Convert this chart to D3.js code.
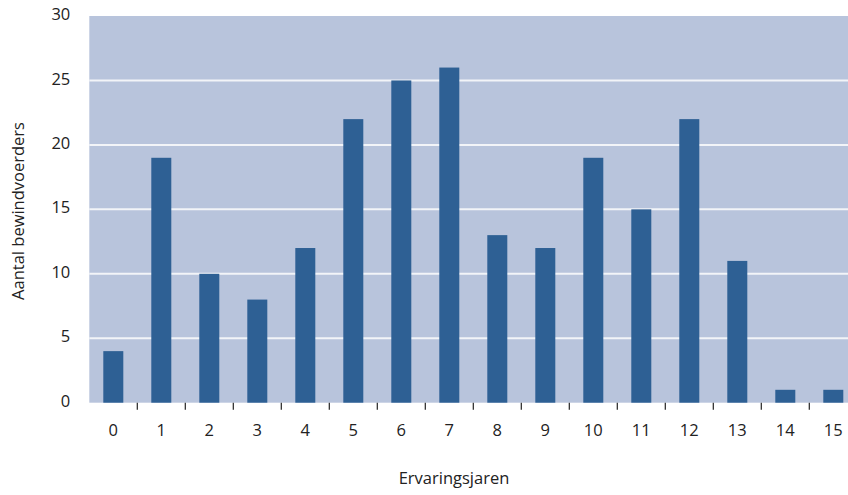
<!DOCTYPE html>
<html>
<head>
<meta charset="utf-8">
<script src="https://cdn.jsdelivr.net/npm/d3@7"></script>
<style>
  body { margin: 0; background: #fff; }
  svg { display: block; }
  text { font-family: "Open Sans", "DejaVu Sans", sans-serif; fill: #222; }
</style>
</head>
<body>
<div id="chart"></div>
<script>
// data
const categories = ['0','1','2','3','4','5','6','7','8','9','10','11','12','13','14','15'];
const counts = [4, 19, 10, 8, 12, 22, 25, 26, 13, 12, 19, 15, 22, 11, 1, 1];
const yTicks = [0, 5, 10, 15, 20, 25, 30];

const W = 848, H = 495;
// plot box (right edge runs past the svg and gets clipped, like the original)
const plot = {x0: 89.3, x1: 857.3, y0: 16, y1: 402.7};
const fontSize = '16.5px';

const svg = d3.select('#chart').append('svg')
  .attr('width', W)
  .attr('height', H);

const x = d3.scaleBand()
  .domain(categories)
  .range([plot.x0, plot.x1])
  .paddingInner(0.5833)
  .paddingOuter(0.2917);

const y = d3.scaleLinear()
  .domain([0, 30])
  .range([plot.y1, plot.y0]);

// plot background
svg.append('rect')
  .attr('x', plot.x0).attr('y', plot.y0)
  .attr('width', plot.x1 - plot.x0).attr('height', plot.y1 - plot.y0)
  .style('fill', '#b8c4dc');

// gridlines
svg.append('g').selectAll('line')
  .data(yTicks.filter(d => d > 0 && d < 30))
  .join('line')
  .attr('x1', plot.x0).attr('x2', plot.x1)
  .attr('y1', d => y(d)).attr('y2', d => y(d))
  .style('stroke', '#f2f4f8')
  .style('stroke-width', 2);

// bars
svg.append('g').selectAll('rect')
  .data(counts)
  .join('rect')
  .attr('x', (d, i) => x(categories[i]))
  .attr('y', d => y(d))
  .attr('width', x.bandwidth())
  .attr('height', d => y(0) - y(d))
  .style('fill', '#2e6094');

// y axis
let yAxis = svg.append('g')
  .attr('transform', `translate(${plot.x0}, 0)`)
  .call(d3.axisLeft(y).tickValues(yTicks).tickSize(0).tickPadding(19));
yAxis.select('.domain').remove();
yAxis.selectAll('text').attr('dy', '0.22em').style('font-size', fontSize);

// x axis
let xAxis = svg.append('g')
  .attr('transform', `translate(0, ${plot.y1})`)
  .call(d3.axisBottom(x).tickSize(0).tickPadding(22));
xAxis.select('.domain').remove();
xAxis.selectAll('text').style('font-size', fontSize);

// tick marks between categories
const step = x.step();
svg.append('g').selectAll('line')
  .data(categories.slice(0, -1))
  .join('line')
  .attr('x1', d => x(d) + x.bandwidth() / 2 + step / 2)
  .attr('x2', d => x(d) + x.bandwidth() / 2 + step / 2)
  .attr('y1', plot.y1).attr('y2', plot.y1 + 7)
  .style('stroke', '#222')
  .style('stroke-width', 1.2);

// axis titles
svg.append('text')
  .attr('x', 454).attr('y', 484)
  .style('text-anchor', 'middle')
  .style('font-size', fontSize)
  .text('Ervaringsjaren');

svg.append('text')
  .attr('transform', 'translate(24, 211) rotate(-90)')
  .style('text-anchor', 'middle')
  .style('font-size', fontSize)
  .text('Aantal bewindvoerders');
</script>
</body>
</html>
